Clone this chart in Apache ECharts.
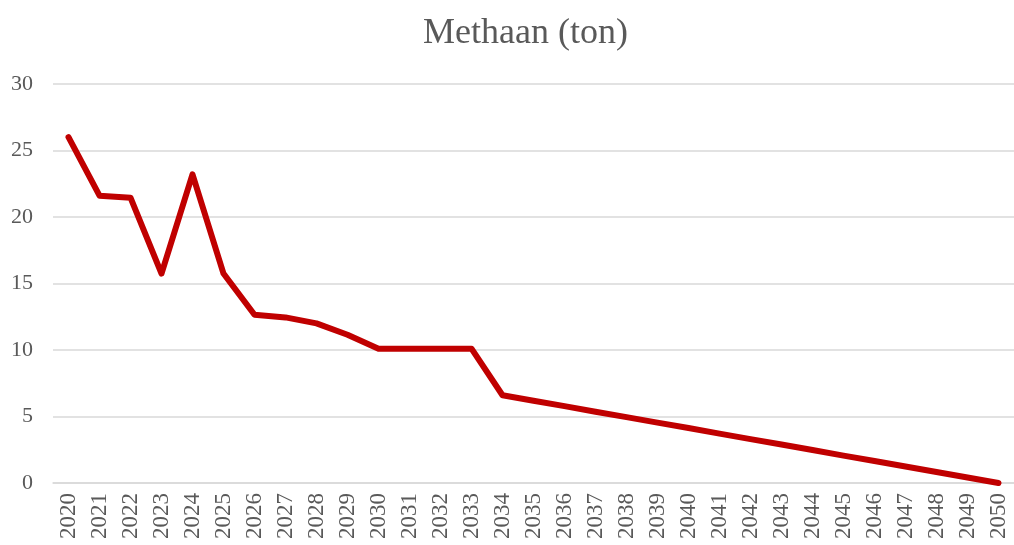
<!DOCTYPE html>
<html>
<head>
<meta charset="utf-8">
<script src="https://cdn.jsdelivr.net/npm/echarts@6/dist/echarts.min.js"></script>
<style>
	html, body { margin: 0; padding: 0; background: #fff; }
	#chartMethaan { width: 1014px; height: 545px; }
</style>
</head>
<body>
<div id="chartMethaan"></div>
<script>
// jaren op de x-as
var years = [];
for (var y = 2020; y <= 2050; y++) { years.push(String(y)); }

// methaan-uitstoot (ton)
var methaan = [
	26.0, 21.6, 21.45, 15.75, 23.2, 15.75, 12.65, 12.45, 12.0, 11.15,
	10.1, 10.1, 10.1, 10.1, 6.6, 6.19, 5.78, 5.36, 4.95, 4.54,
	4.13, 3.71, 3.3, 2.89, 2.48, 2.06, 1.65, 1.24, 0.83, 0.41,
	0.0
];

var yTicks = { min: 0, max: 30, interval: 5 };

var serif = '"Liberation Serif", "DejaVu Serif", serif';
var grey = '#595959';

var myChart = echarts.init(document.getElementById('chartMethaan'));
var options = {
	animation: false,
	title: {
		text: 'Methaan (ton)',
		left: 418,
		top: 11,
		textStyle: {
			fontFamily: serif,
			fontSize: 36,
			fontWeight: 'normal',
			color: grey
		}
	},
	grid: {
		left: 53,
		right: -6,
		top: 84,
		bottom: 62
	},
	xAxis: {
		type: 'category',
		data: years,
		boundaryGap: true,
		axisLine: { show: true, lineStyle: { color: '#d9d9d9', width: 1.5 } },
		axisTick: { show: false },
		axisLabel: {
			rotate: 90,
			margin: 10,
			interval: 0,
			fontFamily: serif,
			fontSize: 23,
			color: grey
		}
	},
	yAxis: {
		type: 'value',
		min: yTicks.min,
		max: yTicks.max,
		interval: yTicks.interval,
		axisLine: { show: false },
		axisTick: { show: false },
		splitLine: { lineStyle: { color: '#d9d9d9', width: 1.5 } },
		axisLabel: {
			margin: 20,
			fontFamily: serif,
			fontSize: 22,
			color: grey
		}
	},
	series: [
		{
			name: 'Methaan',
			type: 'line',
			data: methaan,
			symbol: 'none',
			lineStyle: { color: '#c00000', width: 6, cap: 'round', join: 'round' }
		}
	]
};
myChart.setOption(options);
</script>
</body>
</html>
